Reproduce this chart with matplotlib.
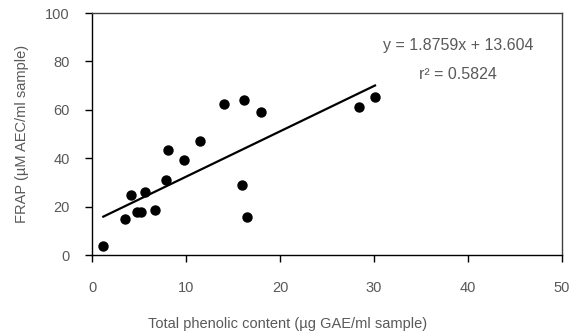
import numpy as np
import matplotlib.pyplot as plt

plt.rcParams['font.family'] = ['Liberation Sans', 'DejaVu Sans']

# total phenolic content (ug GAE/ml) vs FRAP (uM AEC/ml)
phenolic = [1.2, 3.5, 4.1, 4.75, 5.2, 5.6, 6.7, 7.9, 8.1, 9.8, 11.5, 14.0,
            16.0, 16.2, 16.5, 18.0, 28.4, 30.1]
frap = [3.7, 14.9, 24.8, 17.6, 17.6, 26.0, 18.6, 30.8, 43.4, 39.1, 47.2, 62.4,
        28.9, 64.0, 15.6, 59.1, 61.3, 65.4]
slope = 1.8759
intercept = 13.604
r2 = 0.5824
xticks = [0, 10, 20, 30, 40, 50]
yticks = [0, 20, 40, 60, 80, 100]

grey = '#595959'

fig = plt.figure(figsize=(5.73, 3.35), dpi=100)
ax = fig.add_axes([0.1606, 0.2388, 0.8204, 0.7222])

ax.scatter(phenolic, frap, s=42, color='black', zorder=3)
x_fit = np.array([min(phenolic), max(phenolic)])
ax.plot(x_fit, slope * x_fit + intercept, color='black', lw=1.6)

ax.set_xlim(0, 50)
ax.set_ylim(0, 100)
ax.set_xticks(xticks)
ax.set_yticks(yticks)
ax.tick_params(direction='out', length=5, width=1, colors='black',
               labelcolor=grey, labelsize=10.5)
ax.tick_params(axis='x', pad=14)
ax.tick_params(axis='y', pad=11)
for side in ['top', 'right']:
    ax.spines[side].set_color('#404040')
for sp in ax.spines.values():
    sp.set_linewidth(1)

ax.set_xlabel('Total phenolic content (µg GAE/ml sample)', color=grey,
              fontsize=10.5)
ax.xaxis.set_label_coords(0.417, -0.255)
ax.set_ylabel('FRAP (µM AEC/ml sample)', color=grey, fontsize=10.5)
ax.yaxis.set_label_coords(-0.135, 0.5)

ax.text(38.9, 86.5, f'y = {slope}x + {intercept}', color=grey, fontsize=11.5,
        ha='center', va='center')
ax.text(38.9, 74.5, f'r² = {r2}', color=grey, fontsize=11.5,
        ha='center', va='center')

plt.savefig('out.png')
